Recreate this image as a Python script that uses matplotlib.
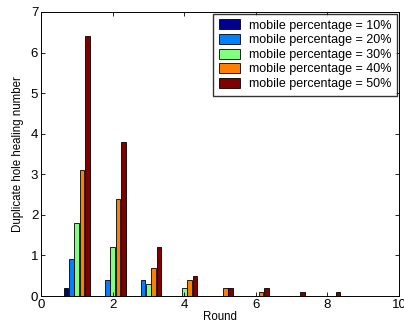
import numpy as np
import matplotlib
matplotlib.use('Agg')
import matplotlib.pyplot as plt

plt.rcParams['font.family'] = ['Liberation Sans', 'DejaVu Sans']

rounds = [1, 2, 3, 4, 5, 6, 7, 8, 9]
labels = ['mobile percentage = 10%', 'mobile percentage = 20%', 'mobile percentage = 30%',
          'mobile percentage = 40%', 'mobile percentage = 50%']
p10 = [0.2, 0, 0, 0, 0, 0, 0, 0, 0]
p20 = [0.9, 0.4, 0.4, 0, 0, 0, 0, 0, 0]
p30 = [1.8, 1.2, 0.3, 0.2, 0, 0, 0, 0, 0]
p40 = [3.1, 2.4, 0.7, 0.4, 0.2, 0.1, 0, 0, 0]
p50 = [6.4, 3.8, 1.2, 0.5, 0.2, 0.2, 0.1, 0.1, 0]
colors = ['#00008F', '#0080FF', '#80FF80', '#FF8000', '#800000']

fig = plt.figure(figsize=(4.04, 3.25), dpi=100)
ax = fig.add_axes([0.1015, 0.0892, 0.886, 0.874])

x = np.array(rounds)
step = 0.15
w = 0.13
for i, (vals, c, lab) in enumerate(zip([p10, p20, p30, p40, p50], colors, labels)):
    ax.bar(x + (i - 2) * step, vals, w, color=c, edgecolor='black', linewidth=0.6, label=lab)

ax.set_xlim(0, 10)
ax.set_ylim(0, 7)
ax.set_xticks([0, 2, 4, 6, 8, 10])
ax.set_yticks(range(8))
ax.tick_params(direction='in', top=True, right=True, labelsize=9.5, length=3, width=0.6, pad=2)
for s in ax.spines.values():
    s.set_linewidth(0.7)
ax.set_xlabel('Round', fontsize=8.3, labelpad=0)
ax.set_ylabel('Duplicate hole healing number', fontsize=8.3, labelpad=5)
leg = ax.legend(loc='upper right', fontsize=9, frameon=True, fancybox=False,
                edgecolor='black', borderaxespad=0.15, handlelength=1.7, handleheight=0.85,
                labelspacing=0.18, borderpad=0.45, handletextpad=0.7)
leg.get_frame().set_linewidth(1.0)

fig.savefig('out.png', dpi=100)
